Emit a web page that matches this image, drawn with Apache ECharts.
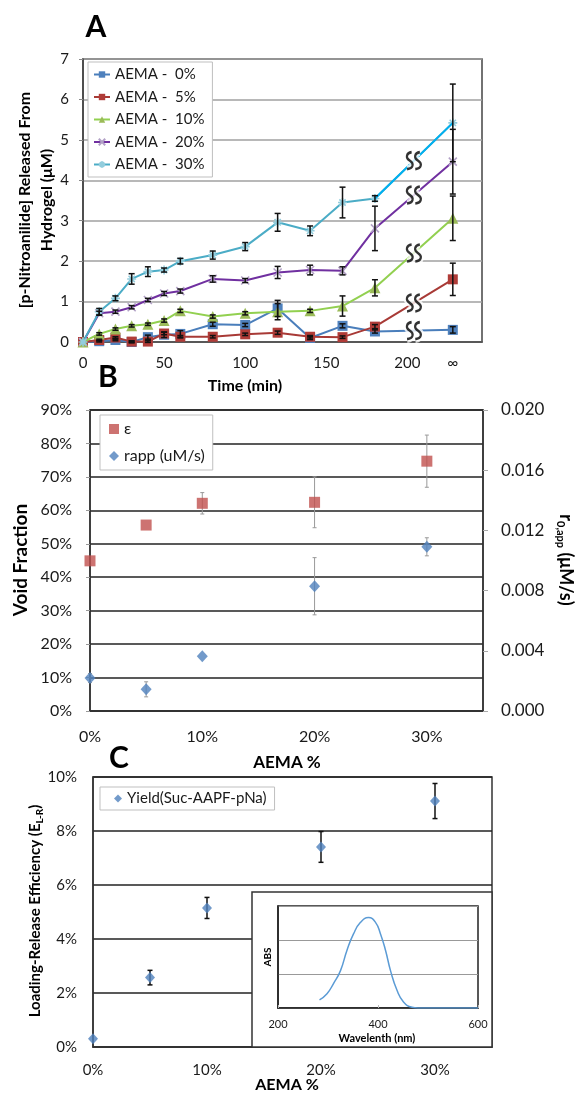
<!DOCTYPE html>
<html><head><meta charset="utf-8">
<script src="https://cdn.jsdelivr.net/npm/echarts@6/dist/echarts.min.js"></script>
<style>html,body{margin:0;padding:0;background:#fff}#c{width:577px;height:1093px}</style>
</head><body><div id="c"></div>
<script>
const FONT = 'Lato, "Noto Sans", sans-serif';
// ---------- Panel A ----------
const timeTicks = [0, 50, 100, 150, 200, 228];        // 228 = position of "∞"
const timeTickLabels = ['0', '50', '100', '150', '200', '∞'];
const timePoints = [0, 10, 20, 30, 40, 50, 60, 80, 100, 120, 140, 160, 180, 228];
const seriesNamesA = ['AEMA -  0%', 'AEMA -  5%', 'AEMA -  10%', 'AEMA -  20%', 'AEMA -  30%'];
const aema0  = [0, 0.02, 0.05, 0.00, 0.12, 0.18, 0.20, 0.44, 0.42, 0.83, 0.10, 0.40, 0.26, 0.30];
const aema5  = [0, 0.05, 0.11, 0.01, 0.01, 0.21, 0.13, 0.13, 0.19, 0.23, 0.13, 0.12, 0.38, 1.55];
const aema10 = [0, 0.20, 0.32, 0.40, 0.44, 0.53, 0.77, 0.63, 0.71, 0.75, 0.77, 0.89, 1.34, 3.06];
const aema20 = [0, 0.71, 0.75, 0.86, 1.04, 1.20, 1.26, 1.56, 1.52, 1.72, 1.78, 1.76, 2.81, 4.46];
const aema30 = [0, 0.75, 1.08, 1.56, 1.74, 1.78, 2.00, 2.15, 2.36, 2.96, 2.75, 3.45, 3.55, 5.42];
const err0  = [0, 0.02, 0.02, 0.02, 0.05, 0.07, 0.08, 0.05, 0.04, 0.20, 0.04, 0.05, 0.04, 0.08];
const err5  = [0, 0.02, 0.02, 0.02, 0.02, 0.03, 0.03, 0.03, 0.03, 0.04, 0.03, 0.03, 0.05, 0.40];
const err10 = [0, 0.03, 0.03, 0.03, 0.03, 0.04, 0.04, 0.04, 0.04, 0.20, 0.04, 0.25, 0.20, 0.55];
const err20 = [0, 0.05, 0.04, 0.04, 0.04, 0.05, 0.05, 0.08, 0.05, 0.15, 0.12, 0.10, 0.55, 0.80];
const err30 = [0, 0.08, 0.06, 0.13, 0.12, 0.05, 0.07, 0.10, 0.10, 0.22, 0.12, 0.38, 0.07, 0.96];
// ---------- Panel B ----------
const aemaPct = [0, 0.05, 0.10, 0.20, 0.30];
const epsilon = [0.449, 0.556, 0.621, 0.624, 0.747];
const epsilonErr = [0, 0, 0.032, 0.076, 0.078];
const rapp = [0.00219, 0.00144, 0.00364, 0.00829, 0.01091];
const rappErr = [0.0003, 0.0005, 0, 0.0019, 0.0006];
// ---------- Panel C ----------
const yieldVals = [0.0031, 0.0257, 0.0515, 0.0741, 0.0911];
const yieldErr = [0, 0.0027, 0.0039, 0.0057, 0.0065];
// ---------- Inset spectrum ----------
const wavelength = [283, 298, 311, 325, 338, 351, 365, 381, 395, 405, 415, 425, 438, 451, 468, 480, 520, 560, 600];
const absorbance = [0.12, 0.21, 0.36, 0.55, 0.85, 1.09, 1.26, 1.33, 1.26, 1.09, 0.85, 0.55, 0.26, 0.09, 0.01, 0, 0, 0, 0];

function pct(v) { return Math.round(v * 100) + '%'; }
function errSeries(xs, ys, es, color, xi, yi, cap, lw, z) {
  return {
    type: 'custom', xAxisIndex: xi, yAxisIndex: yi, z: z, silent: true,
    data: xs.map((x, i) => [x, ys[i] - es[i], ys[i] + es[i]]).filter(d => d[2] > d[1]),
    renderItem(params, api) {
      const lo = api.coord([api.value(0), api.value(1)]);
      const hi = api.coord([api.value(0), api.value(2)]);
      const st = { stroke: color, lineWidth: lw };
      return { type: 'group', children: [
        { type: 'line', shape: { x1: lo[0], y1: lo[1], x2: hi[0], y2: hi[1] }, style: st },
        { type: 'line', shape: { x1: lo[0] - cap, y1: lo[1], x2: lo[0] + cap, y2: lo[1] }, style: st },
        { type: 'line', shape: { x1: hi[0] - cap, y1: hi[1], x2: hi[0] + cap, y2: hi[1] }, style: st }
      ] };
    }
  };
}
const xy = (xs, ys) => xs.map((x, i) => [x, ys[i]]);

const seriesA = [aema0, aema5, aema10, aema20, aema30];
const errA = [err0, err5, err10, err20, err30];
const lineColors = ['#4A7EBB', '#A83A36', '#92D050', '#7030A0', '#4BACC6'];
const markColors = ['#4F81BD', '#B03C38', '#9BBB59', '#B3A2C7', '#93CDDD'];
const symbols = ['rect', 'rect', 'triangle', 'path://M0,0L10,10M10,0L0,10', 'path://M5,0L5,10M0,5L10,5M1.5,1.5L8.5,8.5M8.5,1.5L1.5,8.5'];
const symSizes = [10, 10, 11, 8, 9];

const series = [];
seriesA.forEach((d, k) => {
  const stroke = k >= 3;
  series.push({
    name: seriesNamesA[k], type: 'line', xAxisIndex: 0, yAxisIndex: 0, z: 2 + k * 0.1,
    data: xy(timePoints, d), symbol: symbols[k], symbolSize: symSizes[k], showSymbol: true,
    lineStyle: { color: lineColors[k], width: 2 },
    itemStyle: stroke ? { color: markColors[k], borderColor: markColors[k], borderWidth: 1.6 } : { color: markColors[k], borderWidth: 0 },
    emphasis: { disabled: true }, animation: false
  });
});
// brighter last segment of 30%
series.push({ name: 'seg30', type: 'line', xAxisIndex: 0, yAxisIndex: 0, z: 2.6,
  data: xy(timePoints.slice(12), aema30.slice(12)), showSymbol: false, lineStyle: { color: '#00B0F0', width: 2 }, animation: false });
seriesA.forEach((d, k) => series.push(errSeries(timePoints, d, errA[k], '#111', 0, 0, 3, 1.5, 4)));
// break marks between 180 min and ∞
const breakPts = seriesA.map(d => [(timePoints[12] + timePoints[13]) / 2, (d[12] + d[13]) / 2]);
const squig = 'path://M8,0 C2,1 1,6 6,9 C11,12 10,17 3,18 M17,0 C11,1 10,6 15,9 C20,12 19,17 12,18';
series.push({ type: 'scatter', xAxisIndex: 0, yAxisIndex: 0, z: 5, silent: true, data: breakPts,
  symbol: squig, symbolSize: [14, 17], itemStyle: { color: 'transparent', borderColor: '#fff', borderWidth: 7 }, animation: false });
series.push({ type: 'scatter', xAxisIndex: 0, yAxisIndex: 0, z: 6, silent: true, data: breakPts,
  symbol: squig, symbolSize: [14, 17], itemStyle: { color: 'transparent', borderColor: '#000', borderWidth: 2.4 }, animation: false });

// Panel B
series.push(errSeries(aemaPct, epsilon, epsilonErr, '#999', 1, 1, 2, 1, 3));
series.push(errSeries(aemaPct, rapp, rappErr, '#999', 1, 2, 2, 1, 3));
series.push({ name: 'ε', type: 'scatter', xAxisIndex: 1, yAxisIndex: 1, z: 4, data: xy(aemaPct, epsilon),
  symbol: 'rect', symbolSize: 11, itemStyle: { color: '#C0504D' }, animation: false });
series.push({ name: 'rapp (uM/s)', type: 'scatter', xAxisIndex: 1, yAxisIndex: 2, z: 4, data: xy(aemaPct, rapp),
  symbol: 'diamond', symbolSize: [11, 12], itemStyle: { color: '#4F81BD' }, animation: false });
// Panel C
series.push(errSeries(aemaPct, yieldVals, yieldErr, '#111', 2, 3, 2.5, 1.5, 3));
series.push({ name: 'Yield(Suc-AAPF-pNa)', type: 'scatter', xAxisIndex: 2, yAxisIndex: 3, z: 4, data: xy(aemaPct, yieldVals),
  symbol: 'diamond', symbolSize: [10, 11], itemStyle: { color: '#4F81BD' }, animation: false });
// Inset
series.push({ type: 'line', xAxisIndex: 3, yAxisIndex: 4, z: 14, data: xy(wavelength, absorbance), smooth: 0.5,
  showSymbol: false, lineStyle: { color: '#5B9BD5', width: 1.5 }, animation: false });

const lab = (size, extra) => Object.assign({ fontFamily: FONT, fontSize: size, color: '#1a1a1a' }, extra || {});
const axLine = c => ({ show: true, lineStyle: { color: c || '#333', width: 1.5 } });

const option = {
  animation: false,
  backgroundColor: '#fff',
  grid: [
    { left: 83, top: 59, width: 399, height: 283, show: true, borderColor: '#444', borderWidth: 1.5 },
    { left: 90, top: 410, width: 393, height: 301, show: true, borderColor: '#333', borderWidth: 1.5 },
    { left: 93, top: 777, width: 399, height: 270, show: true, borderColor: '#333', borderWidth: 1.5 },
    { left: 278, top: 906, width: 200, height: 102, show: true, borderColor: '#222', borderWidth: 1.5, z: 12 }
  ],
  xAxis: [
    { type: 'value', gridIndex: 0, min: 0, max: 246, axisLine: axLine('#444'), axisTick: { show: false }, splitLine: { show: false },
      axisLabel: Object.assign(lab(15), { margin: 14, customValues: timeTicks,
        formatter: v => { const i = timeTicks.indexOf(v); return i >= 0 ? timeTickLabels[i] : ''; } }) },
    { type: 'value', gridIndex: 1, min: 0, max: 0.35, interval: 0.1, axisLine: axLine(), axisTick: { show: false }, splitLine: { show: false },
      axisLabel: Object.assign(lab(16), { margin: 18, formatter: pct, showMaxLabel: false }) },
    { type: 'value', gridIndex: 2, min: 0, max: 0.35, interval: 0.1, axisLine: axLine(), axisTick: { show: false }, splitLine: { show: false },
      axisLabel: Object.assign(lab(15), { margin: 16, formatter: pct, showMaxLabel: false }) },
    { type: 'value', gridIndex: 3, min: 200, max: 600, interval: 200, z: 13, axisLine: axLine('#222'),
      axisTick: { show: true, inside: true, length: 3, lineStyle: { color: '#bbb' } }, splitLine: { show: false },
      axisLabel: Object.assign(lab(11), { margin: 11 }) }
  ],
  yAxis: [
    { type: 'value', gridIndex: 0, min: 0, max: 7, interval: 1, axisLine: axLine('#444'),
      axisTick: { show: true, length: 4, lineStyle: { color: '#888' } },
      splitLine: { show: true, lineStyle: { color: '#A0A0A0', width: 1.5 } }, axisLabel: Object.assign(lab(15), { margin: 14 }) },
    { type: 'value', gridIndex: 1, min: 0, max: 0.9, interval: 0.1, axisLine: axLine(),
      axisTick: { show: true, length: 4, lineStyle: { color: '#999' } },
      splitLine: { show: true, lineStyle: { color: '#222', width: 1.5 } }, axisLabel: Object.assign(lab(16), { margin: 18, formatter: pct }) },
    { type: 'value', gridIndex: 1, position: 'right', min: 0, max: 0.02, interval: 0.004, axisLine: axLine(),
      axisTick: { show: true, length: 5, lineStyle: { color: '#aaa' } }, splitLine: { show: false },
      axisLabel: Object.assign(lab(17), { margin: 18, formatter: v => v.toFixed(3) }) },
    { type: 'value', gridIndex: 2, min: 0, max: 0.1, interval: 0.02, axisLine: axLine(), axisTick: { show: false },
      splitLine: { show: true, lineStyle: { color: '#222', width: 1.5 } }, axisLabel: Object.assign(lab(15), { margin: 16, formatter: pct }) },
    { type: 'value', gridIndex: 3, min: 0, max: 1.5, interval: 0.5, z: 13, axisLine: axLine('#222'), axisTick: { show: false },
      splitLine: { show: true, lineStyle: { color: '#999', width: 1 } }, axisLabel: { show: false } }
  ],
  legend: [
    { data: seriesNamesA, orient: 'vertical', left: 88, top: 62, padding: [5, 8, 5, 5], itemGap: 7.5,
      itemWidth: 16, itemHeight: 8, backgroundColor: '#fff', borderColor: '#BFBFBF', borderWidth: 1,
      textStyle: lab(15), selectedMode: false },
    { data: ['ε', 'rapp (uM/s)'], orient: 'vertical', left: 100, top: 415, padding: [6, 8, 6, 9], itemGap: 11,
      itemWidth: 10, itemHeight: 10, backgroundColor: '#fff', borderColor: '#BFBFBF', borderWidth: 1,
      textStyle: lab(16), selectedMode: false },
    { data: ['Yield(Suc-AAPF-pNa)'], orient: 'vertical', left: 100, top: 787, padding: [4, 8, 4, 14],
      itemWidth: 8, itemHeight: 8, backgroundColor: '#fff', borderColor: '#BFBFBF', borderWidth: 1,
      textStyle: lab(15), selectedMode: false }
  ],
  graphic: [
    { type: 'text', x: 96, y: 27, style: { text: 'A', font: 'bold 30px ' + FONT, fill: '#000', align: 'center', verticalAlign: 'middle' } },
    { type: 'text', x: 25, y: 200, rotation: Math.PI / 2, style: { text: '[p-Nitroanilide] Released From', font: 'bold 16px ' + FONT, fill: '#000', align: 'center', verticalAlign: 'middle' } },
    { type: 'text', x: 47, y: 200, rotation: Math.PI / 2, style: { text: 'Hydrogel (μM)', font: 'bold 16px ' + FONT, fill: '#000', align: 'center', verticalAlign: 'middle' } },
    { type: 'text', x: 245, y: 386, style: { text: 'Time (min)', font: 'bold 16px ' + FONT, fill: '#000', align: 'center', verticalAlign: 'middle' } },
    { type: 'text', x: 108, y: 377, style: { text: 'B', font: 'bold 30px ' + FONT, fill: '#000', align: 'center', verticalAlign: 'middle' } },
    { type: 'text', x: 21, y: 560, rotation: Math.PI / 2, style: { text: 'Void Fraction', font: 'bold 19px ' + FONT, fill: '#000', align: 'center', verticalAlign: 'middle' } },
    { type: 'text', x: 566, y: 560, rotation: -Math.PI / 2, style: { text: '{a|r}{s|0,app}{a| (μM/s)}', align: 'center', verticalAlign: 'middle',
        rich: { a: { fontFamily: FONT, fontWeight: 'bold', fontSize: 18, fill: '#000', color: '#000', lineHeight: 22 },
                s: { fontFamily: FONT, fontWeight: 'bold', fontSize: 11, fill: '#000', color: '#000', verticalAlign: 'bottom', lineHeight: 12 } } } },
    { type: 'text', x: 287, y: 763, style: { text: 'AEMA %', font: 'bold 17px ' + FONT, fill: '#000', align: 'center', verticalAlign: 'middle' } },
    { type: 'text', x: 119, y: 758, style: { text: 'C', font: 'bold 30px ' + FONT, fill: '#000', align: 'center', verticalAlign: 'middle' } },
    { type: 'text', x: 35, y: 911, rotation: Math.PI / 2, style: { text: '{a|Loading-Release Efficiency (E}{s|L-R}{a|)}', align: 'center', verticalAlign: 'middle',
        rich: { a: { fontFamily: FONT, fontWeight: 'bold', fontSize: 15, color: '#000', lineHeight: 20 },
                s: { fontFamily: FONT, fontWeight: 'bold', fontSize: 10, color: '#000', verticalAlign: 'bottom', lineHeight: 11 } } } },
    { type: 'text', x: 287, y: 1085, style: { text: 'AEMA %', font: 'bold 16px ' + FONT, fill: '#000', align: 'center', verticalAlign: 'middle' } },
    { type: 'rect', z: 10, shape: { x: 252, y: 892, width: 240, height: 155 }, style: { fill: '#fff', stroke: '#333', lineWidth: 1.5 } },
    { type: 'text', z: 15, x: 268, y: 957, rotation: Math.PI / 2, style: { text: 'ABS', font: 'bold 10px ' + FONT, fill: '#000', align: 'center', verticalAlign: 'middle' } },
    { type: 'text', z: 15, x: 377, y: 1038, style: { text: 'Wavelenth (nm)', font: 'bold 11px ' + FONT, fill: '#000', align: 'center', verticalAlign: 'middle' } }
  ],
  series: series
};
const chart = echarts.init(document.getElementById('c'), null, { renderer: 'canvas' });
chart.setOption(option);
</script></body></html>
